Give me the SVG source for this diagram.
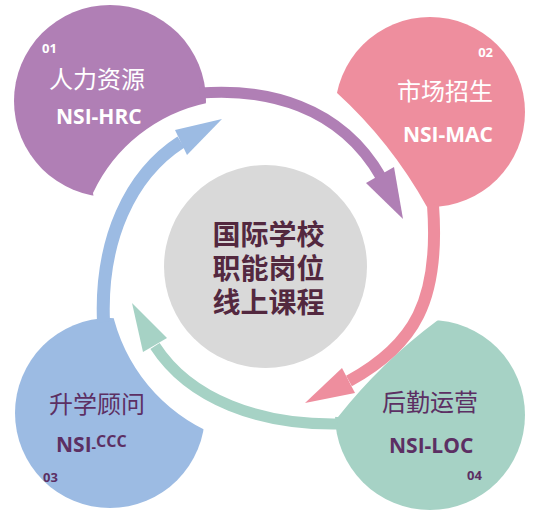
<svg xmlns="http://www.w3.org/2000/svg" width="540" height="512" viewBox="0 0 540 512">
<style>
.cjk{font-family:"Noto Sans CJK SC","Noto Sans",sans-serif;font-size:24px}
.lat{font-family:"Open Sans","Noto Sans",sans-serif;font-weight:700;font-size:21px}
.num{font-family:"Open Sans","Noto Sans",sans-serif;font-weight:700;font-size:13px}
.ctr{font-family:"Noto Sans CJK SC","Noto Sans",sans-serif;font-weight:700;font-size:28px;fill:#53283f;text-anchor:middle}
.w{fill:#ffffff}
.d{fill:#5c2f63}
.band{fill:none;stroke-linecap:butt}
</style>
<rect width="540" height="512" fill="#ffffff"/>
<g id="circles">
<circle id="c1" cx="110" cy="101" r="96" fill="#B07FB5"/>
<circle id="c2" cx="430" cy="112" r="95" fill="#EE8E9E"/>
<circle id="c3" cx="110" cy="413" r="95" fill="#9CBBE3"/>
<circle id="c4" cx="430" cy="415" r="95" fill="#A6D2C5"/>
</g>
<path id="cut" fill="#ffffff" d="M93,193 A163,163 0 0 1 207,103 L240,96 L300,70 L336,92 Q391,142 427,207 L424,260 L438,320 Q381.6,361.9 338,417 L290,415 L240,445 L205,430 A173,173 0 0 1 110,300 L93,193 Z"/>
<g id="connectors">
<path class="band" stroke="#B07FB5" stroke-width="11" d="M200,93 C265,88 340,105 381,177"/>
<polygon fill="#B07FB5" points="366,183 394,167 403,219"/>
<path class="band" stroke="#EE8E9E" stroke-width="12" d="M433,205 C440,300 415,345 349,381"/>
<polygon fill="#EE8E9E" points="342,368 355,393 305,403"/>
<path class="band" stroke="#A6D2C5" stroke-width="11" d="M338,424 C260,425 190,400 155,346"/>
<polygon fill="#A6D2C5" points="167,338 143,352 132,303"/>
<path class="band" stroke="#9CBBE3" stroke-width="13" d="M103.5,322 C100,240 130,175 181,142"/>
<polygon fill="#9CBBE3" points="175,130 187,155 222,119"/>
</g>
<g id="center">
<circle cx="265.5" cy="266.5" r="101.5" fill="#D9D9D9"/>
<text class="ctr" x="268.5" y="245">国际学校</text>
<text class="ctr" x="268.5" y="279">职能岗位</text>
<text class="ctr" x="268.5" y="313">线上课程</text>
</g>
<g id="n1">
<text class="num w" x="42" y="53">01</text>
<text class="cjk w" x="49" y="88">人力资源</text>
<text class="lat w" x="56" y="124">NSI-HRC</text>
</g>
<g id="n2">
<text class="num w" x="493" y="57" text-anchor="end">02</text>
<text class="cjk w" x="493" y="100" text-anchor="end">市场招生</text>
<text class="lat w" x="493" y="142" text-anchor="end">NSI-MAC</text>
</g>
<g id="n3">
<text class="cjk d" x="49" y="413">升学顾问</text>
<text class="lat d" x="56" y="452">NSI<tspan font-size="14">-</tspan><tspan font-size="16" dy="-5">CCC</tspan></text>
<text class="num d" x="43" y="482" font-size="14">03</text>
</g>
<g id="n4">
<text class="cjk d" x="382" y="411">后勤运营</text>
<text class="lat d" x="389" y="453">NSI-LOC</text>
<text class="num d" x="467" y="480" font-size="14">04</text>
</g>
</svg>
